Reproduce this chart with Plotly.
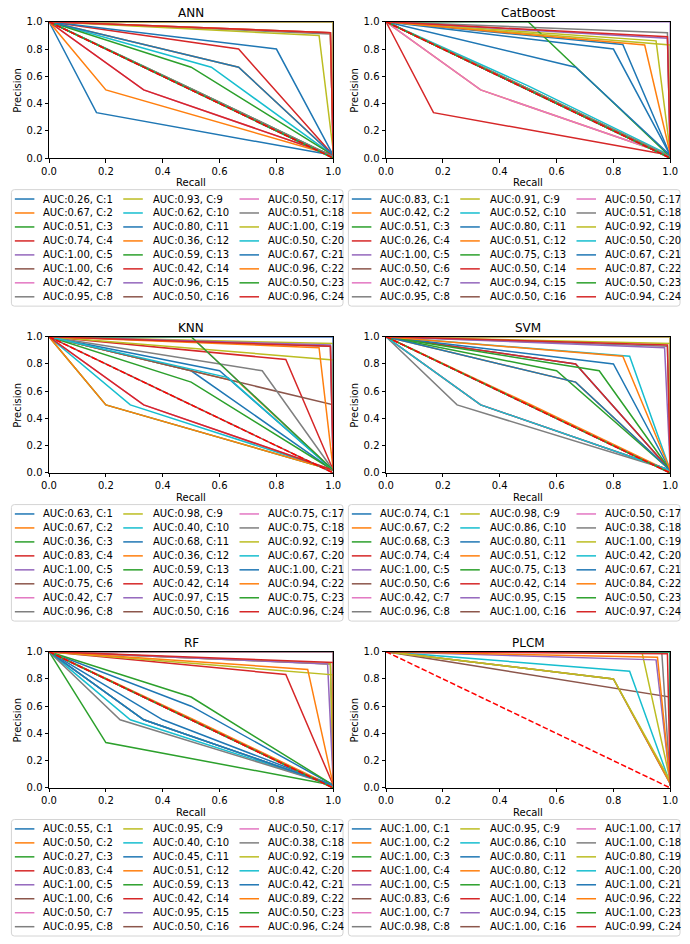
import plotly.graph_objects as go

W, H = 690, 944

MODELS = ["ANN", "CatBoost", "KNN", "SVM", "RF", "PLCM"]
TICK_VALUES = [0.0, 0.2, 0.4, 0.6, 0.8, 1.0]
TICK_LABELS = ["0.0", "0.2", "0.4", "0.6", "0.8", "1.0"]
COLORS = ["#1f77b4", "#ff7f0e", "#2ca02c", "#d62728", "#9467bd",
          "#8c564b", "#e377c2", "#7f7f7f", "#bcbd22", "#17becf"]

# ---- ANN ----
ANN_AUC = [0.26, 0.67, 0.51, 0.74, 1.00, 1.00, 0.42, 0.95, 0.93, 0.62, 0.80, 0.36,
           0.59, 0.42, 0.96, 0.50, 0.50, 0.51, 1.00, 0.50, 0.67, 0.96, 0.50, 0.96]
ANN_R = [0.167, 0.667, 0.5, 0.667, 1.0, 1.0, 0.333, 0.99, 0.95, 0.571, 0.8, 0.2,
         0.5, 0.333, 0.99, 0.5, 0.5, 0.5, 1.0, 0.5, 0.667, 0.99, 0.5, 0.99]
ANN_P = [0.333, 0.667, 0.51, 0.8, 1.0, 1.0, 0.5, 0.91, 0.9, 0.667, 0.8, 0.5,
         0.667, 0.5, 0.92, 0.5, 0.5, 0.51, 1.0, 0.5, 0.667, 0.92, 0.5, 0.92]
ANN_B = [0.02, 0.02, 0.01, 0.02, 0.02, 0.02, 0.02, 0.02, 0.05, 0.02, 0.02, 0.02,
         0.02, 0.02, 0.02, 0.0, 0.0, 0.01, 0.02, 0.0, 0.02, 0.02, 0.0, 0.02]

# ---- CatBoost ----
CAT_AUC = [0.83, 0.42, 0.51, 0.26, 1.00, 0.50, 0.42, 0.95, 0.91, 0.52, 0.80, 0.51,
           0.75, 0.50, 0.94, 0.50, 0.50, 0.51, 0.92, 0.50, 0.67, 0.87, 0.50, 0.94]
CAT_R = [0.833, 0.333, 0.5, 0.167, 1.0, 0.5, 0.333, 0.99, 0.95, 0.5, 0.8, 0.5,
         0.5, 0.5, 0.99, 0.5, 0.5, 0.5, 1.0, 0.5, 0.667, 0.91, 0.5, 0.99]
CAT_P = [0.833, 0.5, 0.51, 0.333, 1.0, 0.5, 0.5, 0.92, 0.86, 0.53, 0.8, 0.51,
         1.0, 0.5, 0.88, 0.5, 0.5, 0.51, 0.83, 0.5, 0.667, 0.83, 0.5, 0.89]
CAT_B = [0.02, 0.02, 0.01, 0.02, 0.02, 0.0, 0.02, 0.02, 0.04, 0.02, 0.02, 0.01,
         0.01, 0.0, 0.02, 0.0, 0.0, 0.01, 0.03, 0.0, 0.02, 0.03, 0.0, 0.02]

# ---- KNN ----
KNN_AUC = [0.63, 0.67, 0.36, 0.83, 1.00, 0.75, 0.42, 0.96, 0.98, 0.40, 0.68, 0.36,
           0.59, 0.42, 0.97, 0.50, 0.75, 0.75, 0.92, 0.67, 1.00, 0.94, 0.75, 0.96]
KNN_R = [0.5, 0.667, 0.2, 0.833, 1.0, 1.0, 0.333, 0.99, 1.0, 0.286, 0.6, 0.2,
         0.5, 0.333, 0.99, 0.5, 0.5, 0.75, 1.0, 0.63, 1.0, 0.95, 0.5, 0.99]
KNN_P = [0.75, 0.667, 0.5, 0.833, 1.0, 0.5, 0.5, 0.93, 0.95, 0.5, 0.75, 0.5,
         0.667, 0.5, 0.94, 0.5, 1.0, 0.75, 0.83, 0.7, 1.0, 0.92, 1.0, 0.93]
KNN_B = [0.02, 0.02, 0.02, 0.02, 0.02, 0.02, 0.02, 0.02, 0.02, 0.02, 0.02, 0.02,
         0.02, 0.02, 0.02, 0.0, 0.02, 0.02, 0.03, 0.02, 0.02, 0.02, 0.02, 0.02]

# ---- SVM ----
SVM_AUC = [0.74, 0.67, 0.68, 0.74, 1.00, 0.50, 0.42, 0.96, 0.98, 0.86, 0.80, 0.51,
           0.75, 0.42, 0.95, 1.00, 0.50, 0.38, 1.00, 0.42, 0.67, 0.84, 0.50, 0.97]
SVM_R = [0.667, 0.667, 0.6, 0.667, 1.0, 0.5, 0.333, 0.99, 1.0, 0.857, 0.8, 0.5,
         0.75, 0.333, 0.98, 1.0, 0.5, 0.25, 1.0, 0.333, 0.667, 0.833, 0.5, 0.99]
SVM_P = [0.8, 0.667, 0.75, 0.8, 1.0, 0.5, 0.5, 0.93, 0.95, 0.857, 0.8, 0.51,
         0.75, 0.5, 0.92, 1.0, 0.5, 0.5, 1.0, 0.5, 0.667, 0.857, 0.5, 0.94]
SVM_B = [0.02, 0.02, 0.02, 0.02, 0.02, 0.0, 0.02, 0.02, 0.02, 0.02, 0.02, 0.01,
         0.02, 0.02, 0.02, 0.02, 0.0, 0.02, 0.02, 0.02, 0.02, 0.02, 0.0, 0.02]

# ---- RF ----
RF_AUC = [0.55, 0.50, 0.27, 0.83, 1.00, 1.00, 0.50, 0.95, 0.95, 0.40, 0.45, 0.51,
          0.59, 0.42, 0.95, 0.50, 0.50, 0.38, 0.92, 0.42, 0.42, 0.89, 0.50, 0.96]
RF_R = [0.5, 0.5, 0.2, 0.833, 1.0, 1.0, 0.5, 0.99, 0.99, 0.286, 0.4, 0.5,
        0.5, 0.333, 0.98, 0.5, 0.5, 0.25, 1.0, 0.333, 0.333, 0.91, 0.5, 1.0]
RF_P = [0.6, 0.5, 0.333, 0.833, 1.0, 1.0, 0.5, 0.91, 0.91, 0.5, 0.5, 0.51,
        0.667, 0.5, 0.91, 0.5, 0.5, 0.5, 0.83, 0.5, 0.5, 0.87, 0.5, 0.92]
RF_B = [0.02, 0.0, 0.02, 0.02, 0.02, 0.02, 0.0, 0.02, 0.02, 0.02, 0.02, 0.01,
        0.02, 0.02, 0.02, 0.0, 0.0, 0.02, 0.03, 0.02, 0.02, 0.02, 0.0, 0.02]

# ---- PLCM ----
PLCM_AUC = [1.00, 1.00, 1.00, 1.00, 1.00, 0.83, 1.00, 0.98, 0.95, 0.86, 0.80, 0.80,
            1.00, 1.00, 0.94, 1.00, 1.00, 1.00, 0.80, 1.00, 1.00, 0.96, 1.00, 0.99]
PLCM_R = [1.0, 1.0, 1.0, 1.0, 1.0, 1.0, 1.0, 0.97, 0.9, 0.857, 0.8, 0.8,
          1.0, 1.0, 0.95, 1.0, 1.0, 1.0, 0.8, 1.0, 1.0, 0.955, 1.0, 0.99]
PLCM_P = [1.0, 1.0, 1.0, 1.0, 1.0, 0.667, 1.0, 1.0, 1.0, 0.857, 0.8, 0.8,
          1.0, 1.0, 0.94, 1.0, 1.0, 1.0, 0.8, 1.0, 1.0, 0.96, 1.0, 0.985]
PLCM_B = [0.02, 0.02, 0.02, 0.02, 0.02, 0.02, 0.02, 0.03, 0.05, 0.03, 0.03, 0.03,
          0.02, 0.02, 0.03, 0.02, 0.02, 0.02, 0.05, 0.02, 0.02, 0.03, 0.02, 0.02]

DATA = {
    "ANN": (ANN_AUC, ANN_R, ANN_P, ANN_B),
    "CatBoost": (CAT_AUC, CAT_R, CAT_P, CAT_B),
    "KNN": (KNN_AUC, KNN_R, KNN_P, KNN_B),
    "SVM": (SVM_AUC, SVM_R, SVM_P, SVM_B),
    "RF": (RF_AUC, RF_R, RF_P, RF_B),
    "PLCM": (PLCM_AUC, PLCM_R, PLCM_P, PLCM_B),
}

# layout geometry (pixels)
AX_LEFT = [42, 387]
AX_RIGHT = [333, 678]
AX_TOP = [16, 335, 654]
AX_BOTTOM = [154, 473, 792]
ROW_STEP = 319

FONT = "DejaVu Sans"


def fx(x):
    return x / W


def fy(y):
    return 1 - y / H


fig = go.Figure()
layout = {}
annotations = []
shapes = []

for i, name in enumerate(MODELS):
    row, col = divmod(i, 2)
    n = i + 1
    sx = "" if n == 1 else str(n)
    aucs, rs, ps, bs = DATA[name]

    for j in range(24):
        fig.add_trace(go.Scatter(
            x=[0.0, rs[j], 1.0], y=[1.0, ps[j], bs[j]],
            mode="lines",
            line=dict(color=COLORS[j % 10], width=1.5),
            name=f"AUC:{aucs[j]:.2f}, C:{j + 1}",
            xaxis="x" + sx, yaxis="y" + sx, showlegend=False,
            hoverinfo="skip",
        ))
    fig.add_trace(go.Scatter(
        x=[0.0, 1.0], y=[1.0, 0.0], mode="lines",
        line=dict(color="red", width=1.5, dash="5.5px,2.4px"),
        xaxis="x" + sx, yaxis="y" + sx, showlegend=False, hoverinfo="skip",
    ))

    x0, x1 = AX_LEFT[col], AX_RIGHT[col]
    y0, y1 = AX_TOP[row], AX_BOTTOM[row]
    common = dict(range=[0, 1], tickvals=TICK_VALUES, ticktext=TICK_LABELS,
                  showgrid=False, zeroline=False, showline=True, mirror=True,
                  linecolor="black", linewidth=1, ticks="outside", ticklen=3.5,
                  tickwidth=0.8, tickcolor="black",
                  tickfont=dict(family=FONT, size=10, color="black"),
                  fixedrange=True)
    layout["xaxis" + sx] = dict(domain=[fx(x0), fx(x1)], anchor="y" + sx, **common)
    layout["yaxis" + sx] = dict(domain=[fy(y1), fy(y0)], anchor="x" + sx, **common)

    cx = (x0 + x1) / 2
    # title
    annotations.append(dict(text=name, x=fx(cx), y=fy(y0 - 9), xref="paper", yref="paper",
                            showarrow=False, xanchor="center", yanchor="middle",
                            font=dict(family=FONT, size=12, color="black")))
    # axis labels
    annotations.append(dict(text="Recall", x=fx(cx), y=fy(y1 + 25), xref="paper", yref="paper",
                            showarrow=False, xanchor="center", yanchor="middle",
                            font=dict(family=FONT, size=10, color="black")))
    annotations.append(dict(text="Precision", x=fx(x0 - 32), y=fy((y0 + y1) / 2),
                            xref="paper", yref="paper", textangle=-90,
                            showarrow=False, xanchor="center", yanchor="middle",
                            font=dict(family=FONT, size=10, color="black")))

    # legend box
    off = 345 * col
    bl, br = 3.5 + off, 343 + off
    bt, bb = 186 + ROW_STEP * row, 304 + ROW_STEP * row
    r = 3
    rx, ry = r / W, r / H
    L, R_, T, B = fx(bl), fx(br), fy(bt), fy(bb)
    path = (f"M {L + rx},{T} L {R_ - rx},{T} Q {R_},{T} {R_},{T - ry} "
            f"L {R_},{B + ry} Q {R_},{B} {R_ - rx},{B} L {L + rx},{B} "
            f"Q {L},{B} {L},{B + ry} L {L},{T - ry} Q {L},{T} {L + rx},{T} Z")
    shapes.append(dict(type="path", path=path, xref="paper", yref="paper",
                       line=dict(color="#d4d4d4", width=1),
                       fillcolor="rgba(255,255,255,0.8)", layer="above"))

    col_line = [7, 118, 237]
    col_text = [35, 147, 265]
    for j in range(24):
        c, k = divmod(j, 8)
        yy = 195.5 + ROW_STEP * row + 14.15 * k
        lx0 = col_line[c] + off
        shapes.append(dict(type="line", xref="paper", yref="paper",
                           x0=fx(lx0), x1=fx(lx0 + 20), y0=fy(yy), y1=fy(yy),
                           line=dict(color=COLORS[j % 10], width=1.5), layer="above"))
        annotations.append(dict(text=f"AUC:{aucs[j]:.2f}, C:{j + 1}",
                                x=fx(col_text[c] + off - 1), y=fy(yy),
                                xref="paper", yref="paper", showarrow=False,
                                xanchor="left", yanchor="middle",
                                font=dict(family=FONT, size=10, color="black")))

fig.update_layout(
    width=W, height=H,
    margin=dict(l=0, r=0, t=0, b=0),
    paper_bgcolor="white", plot_bgcolor="white",
    showlegend=False,
    font=dict(family=FONT, size=10, color="black"),
    annotations=annotations, shapes=shapes,
    **layout,
)

fig.write_html(
    "out.html",
    config={"displayModeBar": False},
    post_script=("document.body.style.margin='0';"
                 "document.documentElement.style.overflow='hidden';"
                 "document.body.style.overflow='hidden';"),
)
